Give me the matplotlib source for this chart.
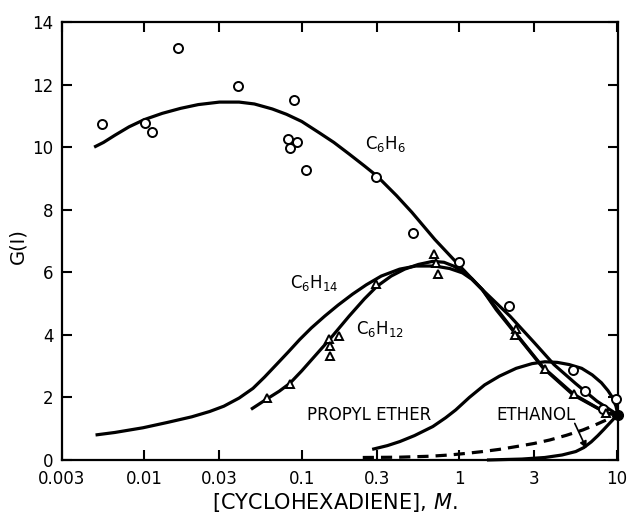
import matplotlib
matplotlib.use('Agg')
import matplotlib.pyplot as plt
from matplotlib.ticker import NullLocator, FixedLocator, FixedFormatter

plt.rcParams['font.family'] = ['DejaVu Sans']
plt.rcParams['mathtext.fontset'] = 'dejavusans'

# ---------------- data ----------------
xticks = [0.003, 0.01, 0.03, 0.1, 0.3, 1, 3, 10]
xtick_labels = ['0.003', '0.01', '0.03', '0.1', '0.3', '1', '3', '10']
yticks = [0, 2, 4, 6, 8, 10, 12, 14]

# C6H6 data (circles)
c6h6_pts_x = [0.00538, 0.0101, 0.0112, 0.0163, 0.0392, 0.0889, 0.0819, 0.0929,
              0.0839, 0.1067, 0.295, 0.508, 0.996, 2.06, 5.28, 6.34, 8.19, 9.87]
c6h6_pts_y = [10.74, 10.77, 10.50, 13.18, 11.94, 11.50, 10.27, 10.17,
              9.97, 9.27, 9.05, 7.25, 6.33, 4.91, 2.87, 2.21, 1.64, 1.94]

# C6H12 data (triangles)
c6h12_pts_x = [0.060, 0.0844, 0.149, 0.172, 0.152, 0.152, 0.295, 0.69, 0.716,
               0.737, 2.28, 2.25, 3.49, 5.34, 8.61]
c6h12_pts_y = [1.98, 2.43, 3.86, 3.97, 3.63, 3.33, 5.62, 6.59, 6.30,
               5.94, 4.19, 4.00, 2.91, 2.10, 1.49]

# pure cyclohexadiene end point
end_x = [10.2]
end_y = [1.44]

# curves
c6h6_cx = [0.0048, 0.0055, 0.0065, 0.008, 0.01, 0.013, 0.017, 0.022, 0.03,
           0.04, 0.05, 0.065, 0.08, 0.1, 0.13, 0.16, 0.2, 0.25, 0.3, 0.4,
           0.5, 0.7, 1.0, 1.4, 2.1, 3.0, 4.0, 5.5, 7.5, 10.2]
c6h6_cy = [10.0, 10.15, 10.38, 10.65, 10.88, 11.08, 11.24, 11.36, 11.44,
           11.44, 11.38, 11.22, 11.05, 10.82, 10.45, 10.15, 9.78, 9.4, 9.08,
           8.45, 7.92, 7.05, 6.22, 5.45, 4.6, 3.75, 3.05, 2.44, 1.88, 1.44]

c6h14_cx = [0.0049, 0.0065, 0.0098, 0.014, 0.02, 0.026, 0.032, 0.04, 0.049,
            0.058, 0.069, 0.082, 0.097, 0.115, 0.14, 0.17, 0.21, 0.257, 0.32,
            0.418, 0.53, 0.7, 0.87, 1.05, 1.2, 1.4, 1.72, 2.31, 3.4, 5.34,
            8.6, 10.2]
c6h14_cy = [0.80, 0.88, 1.03, 1.2, 1.38, 1.55, 1.72, 1.98, 2.29,
            2.65, 3.05, 3.45, 3.85, 4.22, 4.6, 4.95, 5.3, 5.6, 5.88,
            6.1, 6.2, 6.2, 6.12, 5.98, 5.78, 5.45, 4.85, 4.02, 2.97, 2.1,
            1.5, 1.44]

c6h12_cx = [0.0476, 0.06, 0.072, 0.084, 0.1, 0.12, 0.15, 0.2, 0.25, 0.3,
            0.37, 0.45, 0.55, 0.68, 0.8, 0.92, 1.05, 1.2, 1.4, 1.72, 2.31,
            3.4, 5.3, 8.6, 10.2]
c6h12_cy = [1.62, 1.95, 2.2, 2.45, 2.85, 3.3, 3.85, 4.6, 5.15, 5.55,
            5.88, 6.1, 6.25, 6.35, 6.32, 6.2, 6.02, 5.8, 5.45, 4.8, 4.0,
            2.95, 2.08, 1.5, 1.44]

propyl_cx = [0.28, 0.35, 0.42, 0.52, 0.68, 0.82, 0.95, 1.16, 1.45, 1.8, 2.3,
             2.9, 3.5, 4.2, 5.0, 6.0, 7.0, 8.0, 8.8, 9.4, 9.9, 10.2]
propyl_cy = [0.34, 0.46, 0.59, 0.78, 1.07, 1.35, 1.6, 2.0, 2.4, 2.68, 2.93,
             3.08, 3.14, 3.12, 3.05, 2.93, 2.72, 2.47, 2.22, 2.0, 1.72, 1.44]

ethanol_cx = [1.5, 2.5, 3.5, 4.5, 5.5, 6.2, 6.9, 7.6, 8.3, 9.0, 9.6, 10.2]
ethanol_cy = [0.0, 0.03, 0.08, 0.16, 0.27, 0.4, 0.58, 0.78, 0.98, 1.17,
              1.32, 1.44]

ethanol_dash_x = [0.244, 0.418, 0.65, 0.868, 1.1, 1.41, 1.8, 2.31, 3.0, 3.76,
                  4.8, 6.1, 7.3, 8.6, 10.2]
ethanol_dash_y = [0.08, 0.09, 0.12, 0.16, 0.21, 0.27, 0.34, 0.43, 0.53, 0.64,
                  0.79, 0.96, 1.12, 1.28, 1.44]

# ---------------- figure ----------------
fig = plt.figure(figsize=(6.27, 5.17), dpi=100)
ax = fig.add_axes([62 / 627, 1 - 460 / 517, (618 - 62) / 627, (460 - 22) / 517])
ax.set_xscale('log')
ax.set_xlim(0.003, 10.2)
ax.set_ylim(0, 14)

lw = 2.3
kw = dict(color='black', lw=lw, solid_capstyle='butt', solid_joinstyle='round')
ax.plot(c6h6_cx, c6h6_cy, **kw)
ax.plot(c6h14_cx, c6h14_cy, **kw)
ax.plot(c6h12_cx, c6h12_cy, **kw)
ax.plot(propyl_cx, propyl_cy, **kw)
ax.plot(ethanol_cx, ethanol_cy, clip_on=False, **kw)
ax.plot(ethanol_dash_x, ethanol_dash_y, color='black', lw=lw,
        linestyle=(0, (3.5, 2.2)), dash_capstyle='butt')

ax.plot(c6h6_pts_x, c6h6_pts_y, 'o', ms=6.5, mfc='white', mec='black',
        mew=1.4, zorder=5, clip_on=False)
ax.plot(c6h12_pts_x, c6h12_pts_y, '^', ms=6, mfc='white', mec='black',
        mew=1.4, zorder=5)
ax.plot(end_x, end_y, 'o', ms=7, color='black', zorder=6, clip_on=False)

# labels on curves
fs = 12
ax.text(0.340, 10.11, r'C$_{\mathregular{6}}$H$_{\mathregular{6}}$', fontsize=fs,
        ha='center', va='center')
ax.text(0.12, 5.65, r'C$_{\mathregular{6}}$H$_{\mathregular{14}}$', fontsize=fs,
        ha='center', va='center')
ax.text(0.316, 4.19, r'C$_{\mathregular{6}}$H$_{\mathregular{12}}$', fontsize=fs,
        ha='center', va='center')
ax.text(0.269, 1.44, 'PROPYL ETHER', fontsize=fs, ha='center', va='center')
ax.text(3.06, 1.44, 'ETHANOL', fontsize=fs, ha='center', va='center')
ax.annotate('', xy=(6.43, 0.37), xytext=(5.42, 1.17),
            arrowprops=dict(arrowstyle='-|>', color='black', lw=1.2,
                            mutation_scale=10, shrinkA=0, shrinkB=0))

# axes styling
for s in ax.spines.values():
    s.set_linewidth(1.6)
ax.xaxis.set_major_locator(FixedLocator(xticks))
ax.xaxis.set_major_formatter(FixedFormatter(xtick_labels))
ax.xaxis.set_minor_locator(NullLocator())
ax.set_yticks(yticks)
ax.tick_params(axis='both', which='major', direction='in', top=True,
               right=True, length=7, width=1.5, labelsize=12)
ax.tick_params(axis='x', pad=7)
ax.tick_params(axis='y', pad=6)

fig.text(335 / 627, 1 - 502 / 517,
         r'$\left[\mathrm{CYCLOHEXADIENE}\right]$, $\it{M}$.',
         fontsize=15, ha='center', va='center')
fig.text(18 / 627, 1 - 246 / 517, 'G(Ⅰ)', fontsize=14, rotation=90,
         ha='center', va='center')

fig.savefig('out.png', dpi=100)
